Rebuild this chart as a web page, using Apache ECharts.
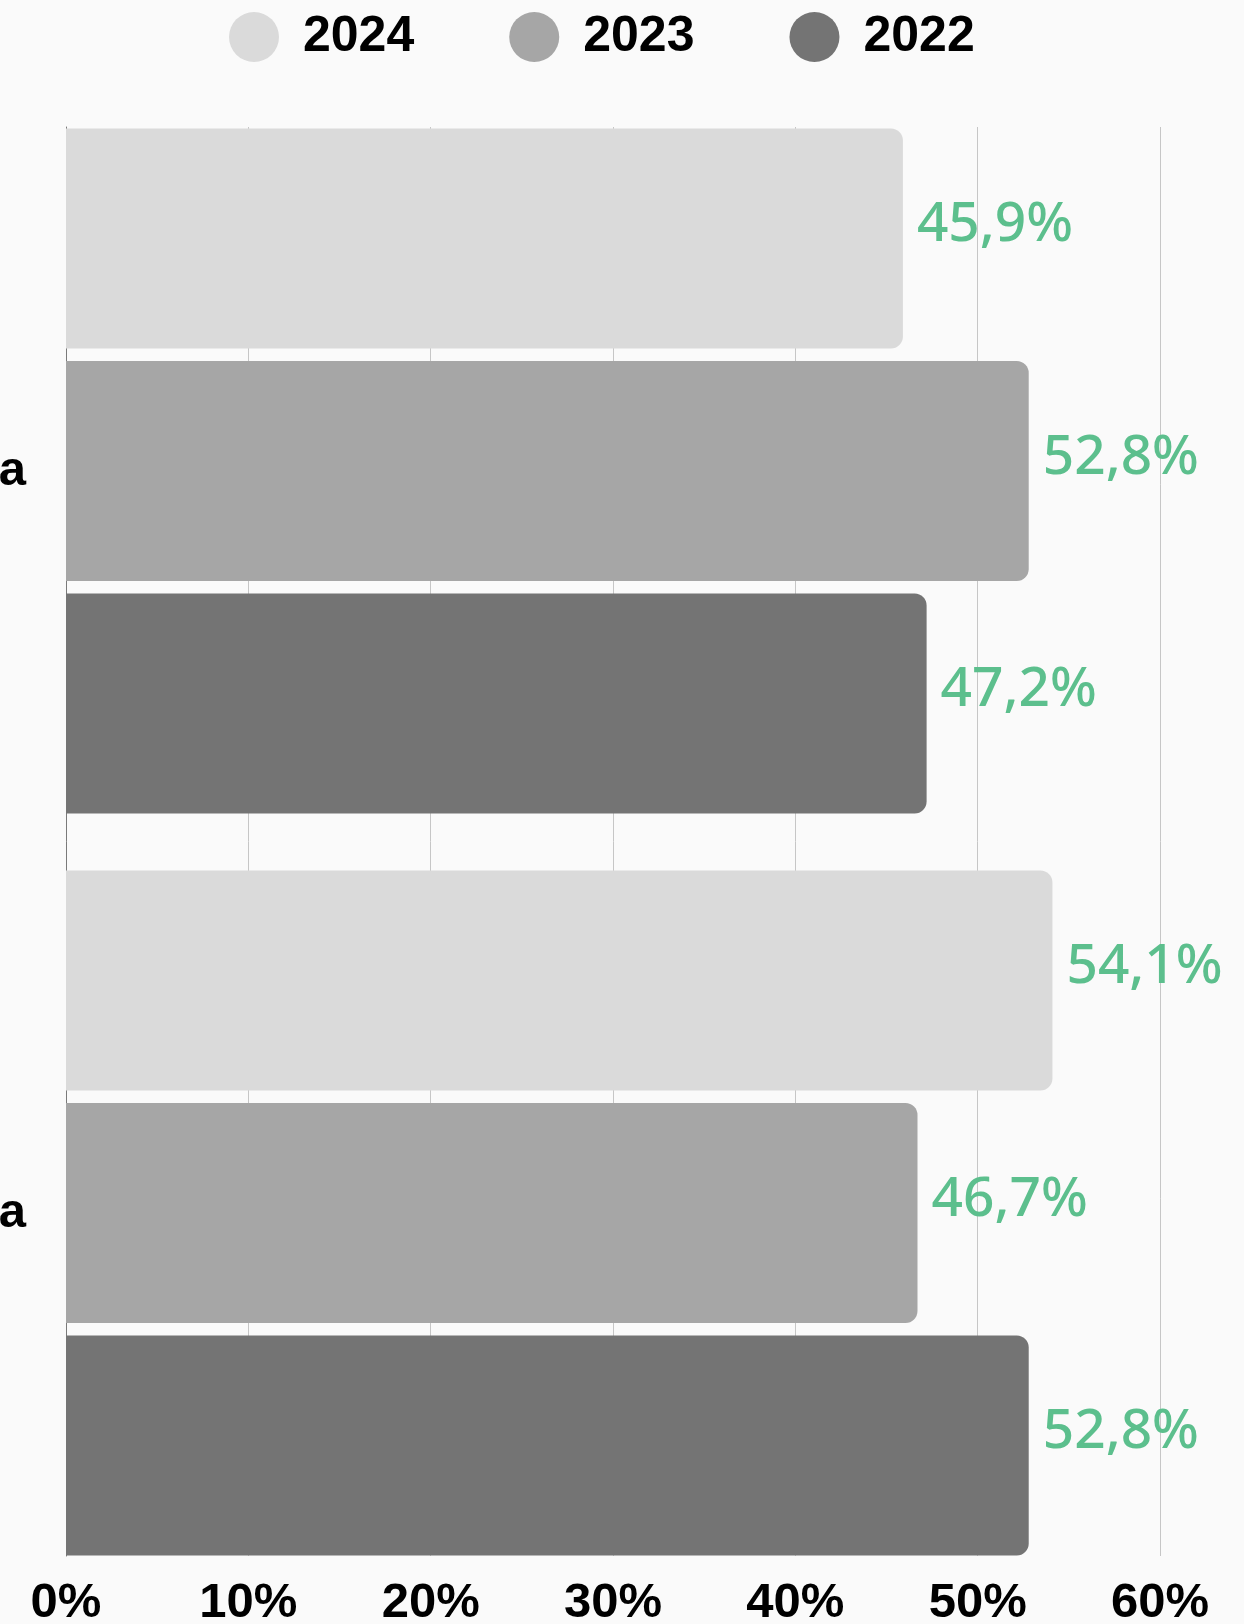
<!DOCTYPE html>
<html>
<head>
<meta charset="utf-8">
<script src="https://cdn.jsdelivr.net/npm/echarts@6/dist/echarts.min.js"></script>
<style>
  html, body { margin: 0; padding: 0; background: #fafafa; }
  #chart { width: 1244px; height: 1624px; }
</style>
</head>
<body>
<div id="chart"></div>
<script>
const categories = ["Zona urbana", "Zona periférica"];
const years = ["2024", "2023", "2022"];
const values2024 = [45.9, 54.1];
const values2023 = [52.8, 46.7];
const values2022 = [47.2, 52.8];
const xTicks = [0, 10, 20, 30, 40, 50, 60];

const colors = ["#dadada", "#a6a6a6", "#747474"];
const valuesByYear = [values2024, values2023, values2022];

const chart = echarts.init(document.getElementById("chart"), null, { renderer: "canvas" });

function fmt(v) {
  return v.toFixed(1).replace(".", ",") + "%";
}

// grid 0 carries the shared background gridlines and x labels,
// grids 1 and 2 hold one category group each
const grids = [
  { left: 66, width: 1094, top: 127, height: 1429, outerBoundsMode: "none" },
  { left: 66, width: 1094, top: 128, height: 686, outerBoundsMode: "none" },
  { left: 66, width: 1094, top: 870, height: 686, outerBoundsMode: "none" }
];

const xAxes = [
  {
    gridIndex: 0,
    type: "value",
    min: xTicks[0],
    max: xTicks[xTicks.length - 1],
    interval: 10,
    axisLine: { show: false },
    axisTick: { show: false },
    splitLine: { show: true, lineStyle: { color: "#c6c6c6", width: 1 } },
    axisLabel: {
      formatter: "{value}%",
      color: "#000",
      fontFamily: "Liberation Sans",
      fontWeight: "bold",
      fontSize: 49,
      margin: 23
    }
  }
];
const yAxes = [
  {
    gridIndex: 0,
    type: "value",
    min: 0,
    max: 1,
    axisLine: { show: true, lineStyle: { color: "#7a7a7a", width: 1 } },
    axisTick: { show: false },
    axisLabel: { show: false },
    splitLine: { show: false }
  }
];

const series = [];
categories.forEach((cat, g) => {
  xAxes.push({
    gridIndex: g + 1,
    type: "value",
    min: 0,
    max: 60,
    show: false
  });
  yAxes.push({
    gridIndex: g + 1,
    type: "category",
    inverse: true,
    data: [cat],
    axisLine: { show: false },
    axisTick: { show: false },
    axisLabel: {
      color: "#000",
      fontFamily: "Liberation Sans",
      fontWeight: "bold",
      fontSize: 49,
      margin: 40
    }
  });
  years.forEach((year, i) => {
    series.push({
      name: year,
      type: "bar",
      xAxisIndex: g + 1,
      yAxisIndex: g + 1,
      data: [valuesByYear[i][g]],
      barWidth: 220,
      barGap: "5.7%",
      barCategoryGap: 0,
      itemStyle: { color: colors[i], borderRadius: [0, 12, 12, 0] },
      label: {
        show: true,
        position: "right",
        distance: 14,
        offset: [0, -13],
        formatter: (p) => fmt(p.value),
        color: "#5cbf8d",
        fontFamily: "Noto Sans",
        fontWeight: 500,
        fontSize: 55
      }
    });
  });
});

const option = {
  backgroundColor: "#fafafa",
  animation: false,
  legend: {
    data: years,
    left: 224,
    top: 7,
    icon: "circle",
    itemWidth: 50,
    itemHeight: 50,
    itemGap: 95,
    textStyle: {
      color: "#000",
      fontFamily: "Liberation Sans",
      fontWeight: "bold",
      fontSize: 50,
      padding: [0, 0, 0, 19]
    }
  },
  grid: grids,
  xAxis: xAxes,
  yAxis: yAxes,
  series: series
};

chart.setOption(option);
</script>
</body>
</html>
